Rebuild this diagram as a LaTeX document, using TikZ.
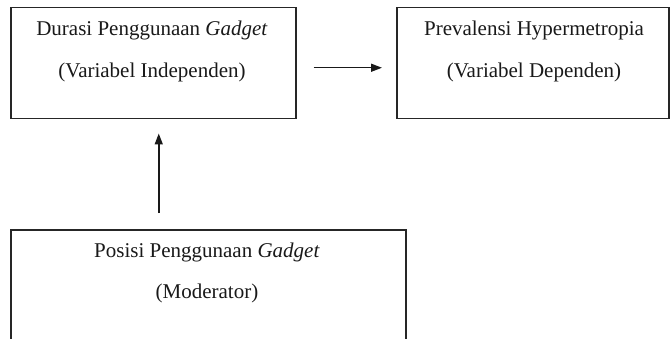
\documentclass[tikz,border=0pt]{standalone}
\usepackage{fontspec}
\setmainfont{Liberation Serif}
\usetikzlibrary{arrows.meta}
\begin{document}
\begin{tikzpicture}[x=1pt,y=-1pt,
  box/.style={draw=black!85, line width=1.5pt, minimum width=#1, anchor=north west, inner sep=0pt},
  txt/.style={font=\fontsize{21}{25}\selectfont, inner sep=0pt, anchor=center, text=black!90},
  arr/.style={line width=1.5pt, draw=black!90, -{Triangle[length=11pt,width=8pt]}}]
\useasboundingbox (0,0) rectangle (671,339);
\clip (0,0) rectangle (671,339);
\node[box=285pt, minimum height=111pt] (b1) at (10,7) {};
\node[box=272pt, minimum height=111pt] (b2) at (396,7) {};
\node[box=395pt, minimum height=130pt] (b3) at (10,229) {};
\node[txt] (t1a) at (152,30) {Durasi Penggunaan \textit{Gadget}};
\node[txt] (t1b) at (152,72) {(Variabel Independen)};
\node[txt] (t2a) at (534,30) {Prevalensi Hypermetropia};
\node[txt] (t2b) at (534,72) {(Variabel Dependen)};
\node[txt] (t3a) at (207,252) {Posisi Penggunaan \textit{Gadget}};
\node[txt] (t3b) at (207,293) {(Moderator)};
\draw[arr] ([shift={(17,4.5)}]b1.east) -- ([shift={(-14,4.5)}]b2.west);
\draw[arr] ([shift={(-49.5,-16)}]b3.north) -- ([shift={(5.5,14)}]b1.south);
\end{tikzpicture}
\end{document}
